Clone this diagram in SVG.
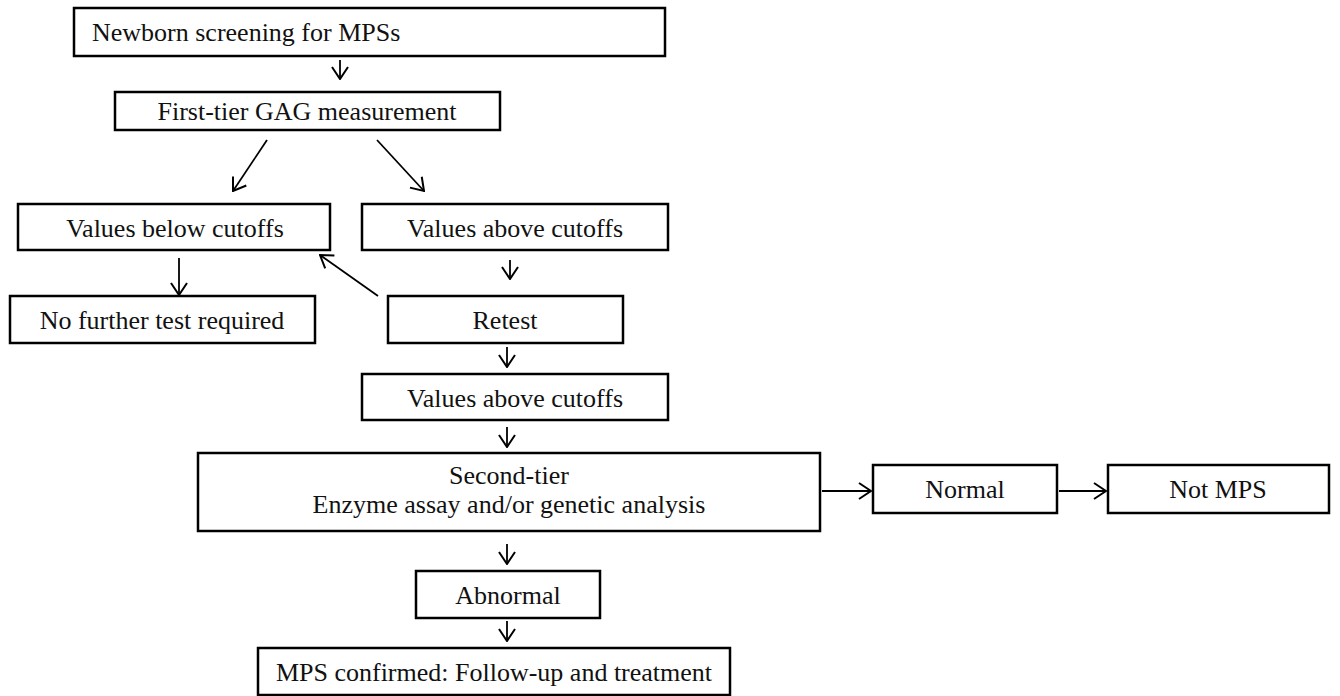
<svg xmlns="http://www.w3.org/2000/svg" width="1340" height="696" viewBox="0 0 1340 696">
<defs>
<marker id="ah" viewBox="0 0 14 18" refX="13" refY="9" markerWidth="14" markerHeight="18" markerUnits="userSpaceOnUse" orient="auto">
<path d="M1,1 L13,9 L1,17" fill="none" stroke="#000" stroke-width="2"/>
</marker>
<style>
.box{fill:#fff;stroke:#000;stroke-width:2.5}
.c{stroke:#000;stroke-width:1.8;fill:none;marker-end:url(#ah)}
</style>
</defs>
<rect width="1340" height="696" fill="#fff"/>
<g id="n1"><rect class="box" x="74" y="8" width="591" height="48"/><text font-family="Liberation Serif" font-size="26" fill="#111" x="92" y="41">Newborn screening for MPSs</text></g>
<g id="n2"><rect class="box" x="115" y="92" width="385" height="38"/><text font-family="Liberation Serif" font-size="26" fill="#111" text-anchor="middle" x="307" y="120">First-tier GAG measurement</text></g>
<g id="n3"><rect class="box" x="18" y="204" width="312" height="46"/><text font-family="Liberation Serif" font-size="26" fill="#111" text-anchor="middle" x="175" y="237">Values below cutoffs</text></g>
<g id="n4"><rect class="box" x="362" y="204" width="306" height="46"/><text font-family="Liberation Serif" font-size="26" fill="#111" text-anchor="middle" x="515" y="237">Values above cutoffs</text></g>
<g id="n5"><rect class="box" x="10" y="296" width="305" height="47"/><text font-family="Liberation Serif" font-size="26" fill="#111" text-anchor="middle" x="162" y="329">No further test required</text></g>
<g id="n6"><rect class="box" x="388" y="296" width="235" height="47"/><text font-family="Liberation Serif" font-size="26" fill="#111" text-anchor="middle" x="505" y="329">Retest</text></g>
<g id="n7"><rect class="box" x="362" y="374" width="306" height="46"/><text font-family="Liberation Serif" font-size="26" fill="#111" text-anchor="middle" x="515" y="407">Values above cutoffs</text></g>
<g id="n8"><rect class="box" x="198" y="453" width="622" height="78"/><text font-family="Liberation Serif" font-size="26" fill="#111" text-anchor="middle" x="509" y="484">Second-tier</text><text font-family="Liberation Serif" font-size="26" fill="#111" text-anchor="middle" x="509" y="513">Enzyme assay and/or genetic analysis</text></g>
<g id="n9"><rect class="box" x="873" y="465" width="184" height="48"/><text font-family="Liberation Serif" font-size="26" fill="#111" text-anchor="middle" x="965" y="498">Normal</text></g>
<g id="n10"><rect class="box" x="1108" y="465" width="221" height="48"/><text font-family="Liberation Serif" font-size="26" fill="#111" text-anchor="middle" x="1218" y="498">Not MPS</text></g>
<g id="n11"><rect class="box" x="416" y="571" width="184" height="47"/><text font-family="Liberation Serif" font-size="26" fill="#111" text-anchor="middle" x="508" y="604">Abnormal</text></g>
<g id="n12"><rect class="box" x="258" y="648" width="472" height="47"/><text font-family="Liberation Serif" font-size="26" fill="#111" text-anchor="middle" x="494" y="681">MPS confirmed: Follow-up and treatment</text></g>
<g id="connectors">
<line class="c" x1="340" y1="60" x2="340" y2="79"/>
<line class="c" x1="267" y1="140" x2="233" y2="191"/>
<line class="c" x1="377" y1="140" x2="424" y2="191"/>
<line class="c" x1="179" y1="258" x2="179" y2="295"/>
<line class="c" x1="378" y1="296" x2="320" y2="255"/>
<line class="c" x1="510" y1="260" x2="510" y2="279"/>
<line class="c" x1="507" y1="347" x2="507" y2="367"/>
<line class="c" x1="507" y1="427" x2="507" y2="447"/>
<line class="c" x1="822" y1="491" x2="871" y2="491"/>
<line class="c" x1="1059" y1="491" x2="1106" y2="491"/>
<line class="c" x1="507" y1="544" x2="507" y2="564"/>
<line class="c" x1="507" y1="621" x2="507" y2="641"/>
</g>
</svg>
